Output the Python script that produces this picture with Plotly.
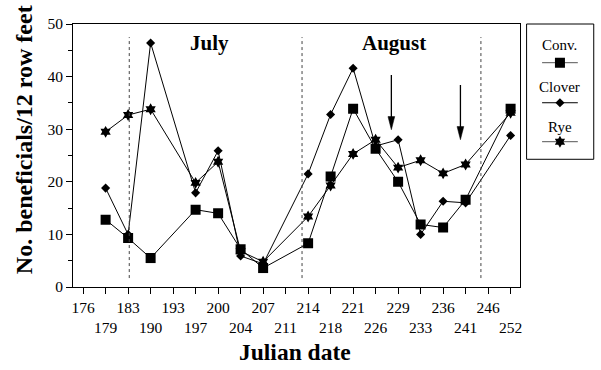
import plotly.graph_objects as go

# ---- data ----
tick_dates = [176, 179, 183, 190, 193, 197, 200, 204, 207, 211,
              214, 218, 221, 226, 229, 233, 236, 241, 246, 252]
dates = [179, 183, 190, 197, 200, 204, 207, 214, 218, 221, 226, 229, 233, 236, 241, 252]
conv   = [12.8, 9.3, 5.5, 14.7, 14.0, 7.2, 3.6, 8.3, 21.0, 33.9, 26.3, 20.0, 11.9, 11.3, 16.6, 33.9]
clover = [18.8, 10.0, 46.4, 17.9, 25.9, 5.9, 4.4, 21.5, 32.8, 41.6, 26.8, 28.0, 10.0, 16.3, 16.0, 28.8]
rye    = [29.5, 32.7, 33.8, 19.8, 23.8, 6.8, 4.8, 13.4, 19.3, 25.3, 28.0, 22.7, 24.1, 21.6, 23.3, 33.1]

month_labels = ["July", "August"]
month_pos = [5.63, 13.8]          # in tick-index units
month_lines = [2.05, 9.73, 17.68]  # month boundaries, tick-index units
arrow_x = [13.7, 16.77]
arrow_top = [40.3, 38.4]
arrow_tip = [29.9, 28.0]

FONT = "Liberation Serif"

xi = [tick_dates.index(d) for d in dates]
ticktext = [str(d) if i % 2 == 0 else "<br>" + str(d) for i, d in enumerate(tick_dates)]

fig = go.Figure()

series = [
    ("Rye", rye, "hexagram", 9),
    ("Clover", clover, "diamond", 7),
    ("Conv.", conv, "square", 10),
]
for name, vals, sym, sz in series:
    fig.add_trace(go.Scatter(
        x=xi, y=vals, mode="lines+markers", name=name,
        line=dict(color="black", width=1),
        marker=dict(symbol=sym, size=sz, color="black"),
        showlegend=False, xaxis="x", yaxis="y"))

# month boundary lines
for xv in month_lines:
    fig.add_shape(type="line", xref="x", yref="y", x0=xv, x1=xv, y0=1.7, y1=47.5,
                  line=dict(color="#444444", width=1, dash="dot"))

# arrows
for ax_, yt, yb in zip(arrow_x, arrow_top, arrow_tip):
    fig.add_shape(type="line", xref="x", yref="y", x0=ax_, x1=ax_, y0=yt, y1=yb + 2.0,
                  line=dict(color="black", width=1.3))
    hw = 0.15
    hl = 2.5
    fig.add_shape(type="path", xref="x", yref="y",
                  path=f"M {ax_-hw} {yb+hl} L {ax_+hw} {yb+hl} L {ax_} {yb} Z",
                  fillcolor="black", line=dict(color="black", width=0.5))

# month text
for lab, xp in zip(month_labels, month_pos):
    fig.add_annotation(x=xp, y=46.4, xref="x", yref="y", text=f"<b>{lab}</b>",
                       showarrow=False, font=dict(family=FONT, size=21, color="black"))

# ---- custom legend (top-to-bottom: Conv., Clover, Rye) ----
leg_items = [("Conv.", "square", 10, 0.845, 0.714, "#555555"),
             ("Clover", "diamond", 7, 0.537, 0.418, "black"),
             ("Rye", "hexagram", 9, 0.241, 0.130, "#555555")]
for name, sym, sz, ty, ly, lc in leg_items:
    fig.add_trace(go.Scatter(x=[0.23, 0.76], y=[ly, ly], mode="lines",
                             line=dict(color=lc, width=1), showlegend=False,
                             xaxis="x3", yaxis="y3", hoverinfo="skip"))
    fig.add_trace(go.Scatter(x=[0.495], y=[ly], mode="markers",
                             marker=dict(symbol=sym, size=sz, color="black"),
                             showlegend=False, xaxis="x3", yaxis="y3", hoverinfo="skip"))
    fig.add_annotation(x=0.495, y=ty, xref="x3", yref="y3", text=name, showarrow=False,
                       font=dict(family=FONT, size=15, color="black"))

fig.add_shape(type="rect", xref="paper", yref="paper", x0=0.8706, x1=0.9995,
              y0=0.4856, y1=1.0, line=dict(color="black", width=1))

# axis titles
fig.add_annotation(x=-0.0937, y=0.559, xref="paper", yref="paper",
                   text="<b>No. beneficials/12 row feet</b>", textangle=-90,
                   xanchor="center", yanchor="middle",
                   showarrow=False, font=dict(family=FONT, size=24, color="black"))
fig.add_annotation(x=0.4264, y=-0.247, xref="paper", yref="paper",
                   text="<b>Julian date</b>", showarrow=False, yanchor="middle",
                   font=dict(family=FONT, size=23.5, color="black"))

fig.update_layout(
    width=601, height=370,
    margin=dict(l=73, r=5, t=24, b=83),
    paper_bgcolor="white", plot_bgcolor="white",
    font=dict(family=FONT, size=15.5, color="black"),
    xaxis=dict(domain=[0, 0.8585], range=[-0.45, 19.43], tickmode="array",
               tickvals=list(range(len(tick_dates))), ticktext=ticktext,
               ticks="outside", ticklen=6, tickwidth=1, tickcolor="black",
               showline=True, linecolor="black", linewidth=1, mirror=True,
               showgrid=False, zeroline=False, tickangle=0,
               tickfont=dict(family=FONT, size=15.5, color="black")),
    yaxis=dict(range=[0, 50], tickvals=[0, 10, 20, 30, 40, 50],
               ticks="outside", ticklen=6, tickwidth=1, tickcolor="black",
               minor=dict(tickvals=[5, 15, 25, 35, 45], ticks="outside", ticklen=4,
                          tickcolor="black", showgrid=False),
               showline=True, linecolor="black", linewidth=1, mirror=True,
               showgrid=False, zeroline=False,
               tickfont=dict(family=FONT, size=15.5, color="black")),
    xaxis3=dict(domain=[0.8706, 1.0], range=[0, 1], visible=False, anchor="y3"),
    yaxis3=dict(domain=[0.4856, 1.0], range=[0, 1], visible=False, anchor="x3"),
)

fig.write_html("out.html", config={"displayModeBar": False},
               post_script="document.body.style.margin='0';document.body.style.overflow='hidden';")
